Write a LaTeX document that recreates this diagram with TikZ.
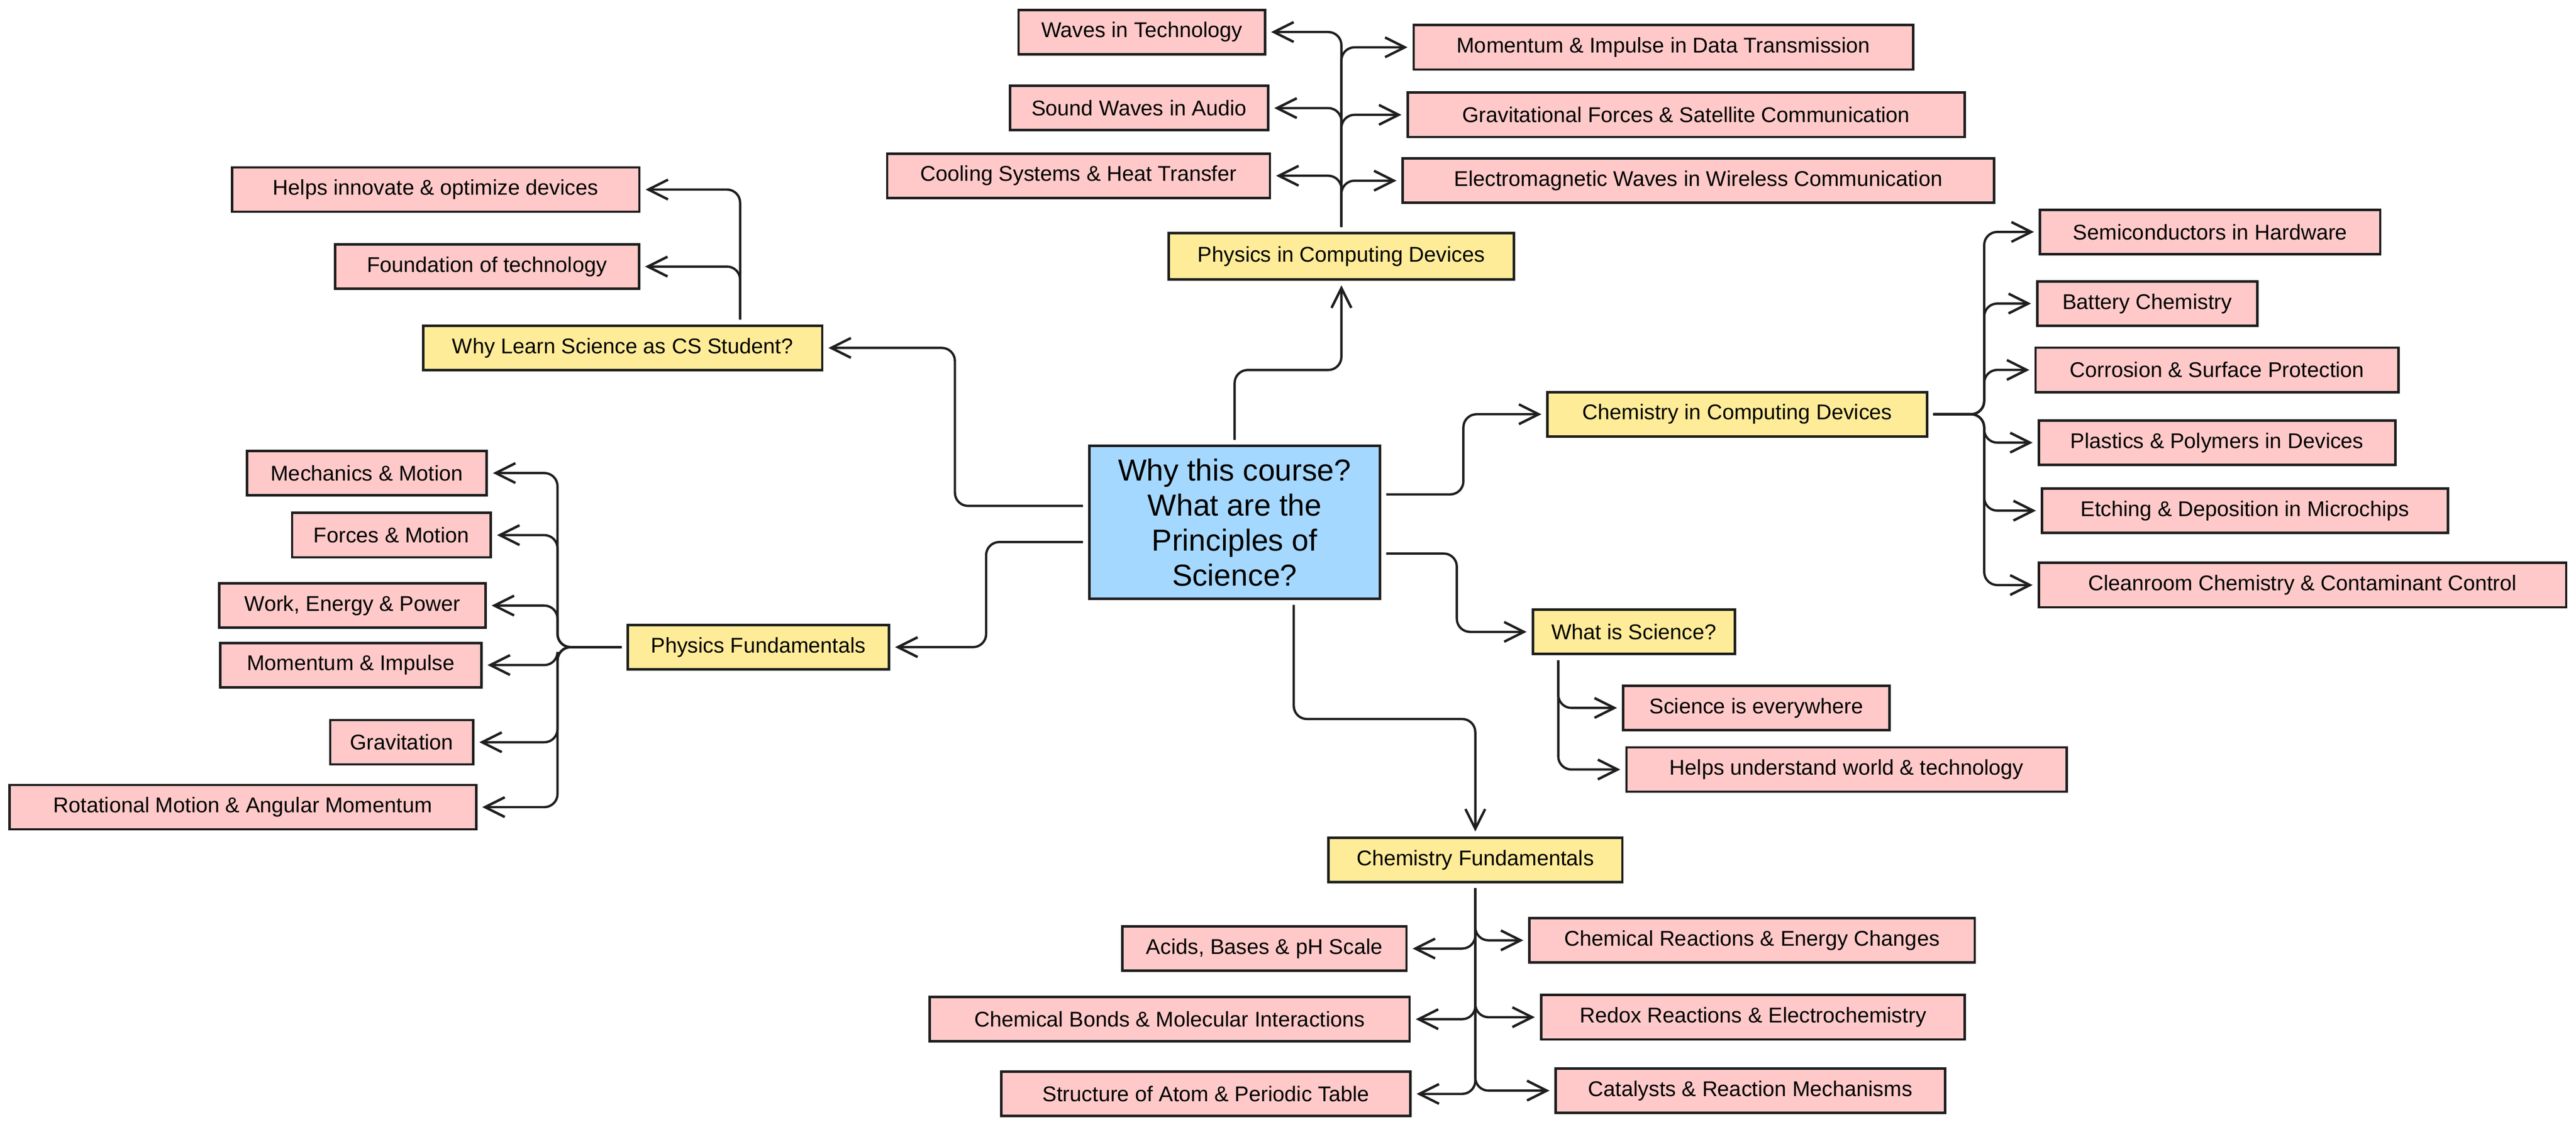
\documentclass[tikz,border=0pt]{standalone}
\usepackage{fontspec}
\setmainfont{Liberation Sans}
\usepackage{tikz}
\usetikzlibrary{arrows.meta}
\definecolor{ink}{HTML}{1E1E1E}
\definecolor{rosa}{HTML}{FFC9C9}
\definecolor{amarillo}{HTML}{FFEC99}
\definecolor{celeste}{HTML}{A5D8FF}
\tikzstyle{subtopic} = [draw=ink, fill=rosa, line width=1.5pt, rectangle, minimum height=27pt, inner sep=0pt, font=\fontsize{13}{15}\selectfont]
\tikzstyle{topic} = [subtopic, fill=amarillo]
\tikzstyle{core} = [draw=ink, fill=celeste, line width=1.5pt, rectangle, minimum width=177pt, minimum height=93pt, inner sep=0pt, align=center, font=\fontsize{18.5}{21.3}\selectfont]
\tikzstyle{link} = [draw=ink, line width=1.4pt, rounded corners=8pt, shorten <=3pt, shorten >=3pt, -{Straight Barb[length=12pt,width=12pt,line width=1.5pt]}]

\begin{document}
\begin{tikzpicture}[x=1pt,y=-1pt]
	\useasboundingbox[fill=white] (0,0) rectangle (1568,686);
	\node[core] (main) at (751.5,318) {Why this course?\\What are the\\Principles of\\Science?};
	\node[topic, minimum width=210pt, minimum height=28pt] (pcd) at (816.5,156) {Physics in Computing Devices};
	\node[topic, minimum width=243pt] (why) at (379,211.8) {Why Learn Science as CS Student?};
	\node[topic, minimum width=231pt] (ccd) at (1057.5,252.2) {Chemistry in Computing Devices};
	\node[topic, minimum width=159pt] (pf) at (461.6,394) {Physics Fundamentals};
	\node[topic, minimum width=123pt] (wis) at (994.5,384.7) {What is Science?};
	\node[topic, minimum width=179pt] (cf) at (898,523.5) {Chemistry Fundamentals};

	\node[subtopic, minimum width=150pt] (wt) at (695,19.5) {Waves in Technology};
	\node[subtopic, minimum width=157pt] (sw) at (693.4,65.8) {Sound Waves in Audio};
	\node[subtopic, minimum width=233pt] (cs) at (656.5,107) {Cooling Systems \& Heat Transfer};
	\node[subtopic, minimum width=304pt] (mi) at (1012.5,28.8) {Momentum \& Impulse in Data Transmission};
	\node[subtopic, minimum width=339pt] (gf) at (1026.3,69.9) {Gravitational Forces \& Satellite Communication};
	\node[subtopic, minimum width=360pt] (em) at (1033.8,110) {Electromagnetic Waves in Wireless Communication};

	\node[subtopic, minimum width=248pt] (hi) at (265.2,115.4) {Helps innovate \& optimize devices};
	\node[subtopic, minimum width=185pt] (ft) at (296.4,162.3) {Foundation of technology};

	\node[subtopic, minimum width=146pt] (mm) at (223.3,288) {Mechanics \& Motion};
	\node[subtopic, minimum width=121pt] (fm) at (238.3,325.8) {Forces \& Motion};
	\node[subtopic, minimum width=162pt] (we) at (214.5,368.7) {Work, Energy \& Power};
	\node[subtopic, minimum width=159pt] (mo) at (213.5,404.9) {Momentum \& Impulse};
	\node[subtopic, minimum width=87pt] (gr) at (244.5,451.9) {Gravitation};
	\node[subtopic, minimum width=284pt] (rm) at (147.8,491.4) {Rotational Motion \& Angular Momentum};

	\node[subtopic, minimum width=207pt] (sh) at (1345.3,141.2) {Semiconductors in Hardware};
	\node[subtopic, minimum width=134pt] (bc) at (1307,184.8) {Battery Chemistry};
	\node[subtopic, minimum width=221pt] (co) at (1349.5,225.2) {Corrosion \& Surface Protection};
	\node[subtopic, minimum width=217pt] (pp) at (1349.5,269.5) {Plastics \& Polymers in Devices};
	\node[subtopic, minimum width=247pt] (ed) at (1366.5,310.9) {Etching \& Deposition in Microchips};
	\node[subtopic, minimum width=321pt] (cc) at (1401.5,356.2) {Cleanroom Chemistry \& Contaminant Control};

	\node[subtopic, minimum width=162pt] (se) at (1069,431) {Science is everywhere};
	\node[subtopic, minimum width=268pt] (hu) at (1124,468.5) {Helps understand world \& technology};

	\node[subtopic, minimum width=173pt] (ab) at (769.6,577.5) {Acids, Bases \& pH Scale};
	\node[subtopic, minimum width=292pt] (cb) at (712,620.5) {Chemical Bonds \& Molecular Interactions};
	\node[subtopic, minimum width=249pt] (sa) at (734,666) {Structure of Atom \& Periodic Table};
	\node[subtopic, minimum width=271pt] (cr) at (1066.5,572.5) {Chemical Reactions \& Energy Changes};
	\node[subtopic, minimum width=258pt] (rr) at (1067,619.3) {Redox Reactions \& Electrochemistry};
	\node[subtopic, minimum width=237pt] (ca) at (1065.4,664) {Catalysts \& Reaction Mechanisms};

	\draw[link] (main.north) -- ++(0,-45.5) -| (pcd.south);
	\draw[link] ([yshift=10pt]main.west) -- ++(-81,0) |- (why.east);
	\draw[link] ([yshift=-12pt]main.west) -- ++(-62,0) |- (pf.east);
	\draw[link] ([yshift=17pt]main.east) -- ++(50,0) |- (ccd.west);
	\draw[link] ([yshift=-19pt]main.east) -- ++(46,0) |- (wis.west);
	\draw[link] ([xshift=36pt]main.south) -- ++(0,72.5) -| (cf.north);

	\foreach \leaf in {wt,sw,cs} \draw[link] (pcd.north) |- (\leaf.east);
	\foreach \leaf in {mi,gf,em} \draw[link] (pcd.north) |- (\leaf.west);
	\foreach \leaf in {hi,ft} \draw[link] ([xshift=71.5pt]why.north) |- (\leaf.east);
	\foreach \leaf in {mm,fm,we,mo,gr,rm} \draw[link] (pf.west) -- ++(-42,0) |- (\leaf.east);
	\foreach \leaf in {sh,bc,co,pp,ed,cc} \draw[link] (ccd.east) -- ++(34,0) |- (\leaf.west);
	\foreach \leaf in {se,hu} \draw[link] ([xshift=-46pt]wis.south) |- (\leaf.west);
	\foreach \leaf in {ab,cb,sa} \draw[link] (cf.south) |- (\leaf.east);
	\foreach \leaf in {cr,rr,ca} \draw[link] (cf.south) |- (\leaf.west);
\end{tikzpicture}
\end{document}
